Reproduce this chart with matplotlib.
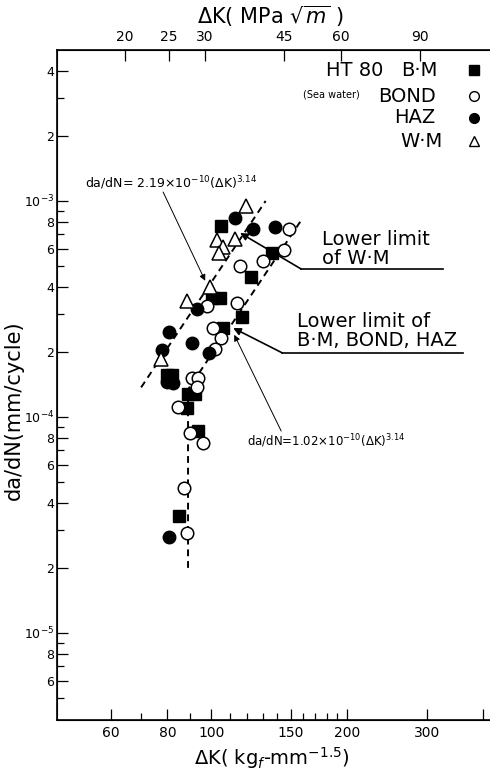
import matplotlib

matplotlib.use("Agg")
import matplotlib.pyplot as plt  # noqa: E402

plt.rcParams["font.family"] = ["DejaVu Sans"]
plt.rcParams["mathtext.fontset"] = "dejavusans"

# ------------------------------------------------------------------ data
# dK in kgf*mm^-1.5, da/dN in mm/cycle
bm_dk = [105.2, 136.4, 122.6, 100.5, 104.7, 117.1, 106.3, 79.9, 82.0, 88.9, 92.2, 88.5, 93.6, 85.0]
bm_dadn = [7.66e-4, 5.74e-4, 4.45e-4, 3.56e-4, 3.56e-4, 2.90e-4, 2.58e-4, 1.56e-4, 1.56e-4,
           1.27e-4, 1.28e-4, 1.10e-4, 8.6e-5, 3.48e-5]

bond_dk = [148.8, 145.0, 130.3, 115.9, 114.2, 98.0, 101.0, 105.2, 102.1, 90.8, 93.6, 93.1,
           84.5, 89.9, 96.0, 87.2, 88.5]
bond_dadn = [7.42e-4, 5.93e-4, 5.27e-4, 5.00e-4, 3.37e-4, 3.27e-4, 2.58e-4, 2.32e-4, 2.06e-4,
             1.52e-4, 1.52e-4, 1.38e-4, 1.11e-4, 8.4e-5, 7.6e-5, 4.7e-5, 2.9e-5]

haz_dk = [113.0, 123.9, 138.6, 93.1, 80.7, 90.8, 77.9, 99.0, 79.9, 82.4, 80.7]
haz_dadn = [8.34e-4, 7.42e-4, 7.58e-4, 3.16e-4, 2.48e-4, 2.20e-4, 2.05e-4, 1.98e-4, 1.45e-4,
            1.44e-4, 2.78e-5]

wm_dk = [119.5, 103.1, 113.0, 106.3, 104.2, 99.5, 88.5, 77.5]
wm_dadn = [9.48e-4, 6.60e-4, 6.67e-4, 6.12e-4, 5.74e-4, 4.0e-4, 3.44e-4, 1.86e-4]

# dashed lower-limit lines (end points)
upper_dk = [70.0, 132.0]
upper_dadn = [1.37e-4, 1.0e-3]
lower_dk = [88.9, 88.9, 158.0]
lower_dadn = [2.0e-5, 1.34e-4, 8.1e-4]

# ticks
x_major = [60, 80, 100, 150, 200, 300, 400]
x_major_labels = ["60", "80", "100", "150", "200", "300", ""]
x_minor = [70, 90, 110, 120, 130, 140, 160, 170, 180, 190]
mpa_ticks = [20, 25, 30, 45, 60, 90]
KGF_TO_MPA = 0.31

y_major = [4e-3, 2e-3, 1e-3, 8e-4, 6e-4, 4e-4, 2e-4, 1e-4, 8e-5, 6e-5, 4e-5, 2e-5, 1e-5, 8e-6, 6e-6]
y_major_labels = ["4", "2", "10$^{-3}$", "8", "6", "4", "2", "10$^{-4}$", "8", "6", "4", "2",
                  "10$^{-5}$", "8", "6"]
y_minor = [3e-3, 9e-4, 7e-4, 5e-4, 3e-4, 9e-5, 7e-5, 5e-5, 3e-5, 9e-6, 7e-6, 5e-6]

series_names = ["B·M", "BOND", "HAZ", "W·M"]

# ------------------------------------------------------------------ figure
fig = plt.figure(figsize=(4.9, 7.74), dpi=100)
ax = fig.add_axes([57 / 490, 54 / 774, 433 / 490, 670 / 774])
ax.set_xscale("log")
ax.set_yscale("log")
ax.set_xlim(45.6, 414)
ax.set_ylim(3.95e-6, 5.0e-3)

ms = 9
ax.plot(bm_dk, bm_dadn, "s", color="k", ms=ms, ls="none")
ax.plot(bond_dk, bond_dadn, "o", mfc="white", mec="k", mew=1.1, ms=ms, ls="none")
ax.plot(haz_dk, haz_dadn, "o", color="k", ms=ms, ls="none")
ax.plot(wm_dk, wm_dadn, "^", mfc="white", mec="k", mew=1.1, ms=ms + 1, ls="none")

dash = dict(color="k", lw=1.4, ls=(0, (3.5, 2.5)), zorder=1)
ax.plot(upper_dk, upper_dadn, **dash)
ax.plot(lower_dk, lower_dadn, **dash)

# ticks
ax.set_xticks(x_major)
ax.set_xticklabels(x_major_labels)
ax.set_xticks(x_minor, minor=True)
ax.set_xticklabels([], minor=True)
ax.set_yticks(y_major)
ax.set_yticklabels(y_major_labels)
ax.set_yticks(y_minor, minor=True)
ax.set_yticklabels([], minor=True)
ax.tick_params(which="both", direction="in", labelsize=10, width=0.9,
               top=False, right=False, pad=4)
ax.tick_params(axis="y", labelsize=9, pad=2)
ax.tick_params(which="major", length=8)
ax.tick_params(which="minor", length=5)
ax.spines["right"].set_visible(False)
for s in ["left", "bottom", "top"]:
    ax.spines[s].set_linewidth(1.2)

top = ax.twiny()
top.set_xscale("log")
top.set_xlim(ax.get_xlim())
top.set_xticks([v / KGF_TO_MPA for v in mpa_ticks])
top.set_xticklabels([str(v) for v in mpa_ticks])
top.set_xticks([], minor=True)
top.tick_params(direction="in", length=8, width=0.9, labelsize=10, pad=4)
top.spines["right"].set_visible(False)

ax.set_xlabel("ΔK( kg$_f$-mm$^{-1.5}$)", fontsize=14)
ax.xaxis.set_label_coords(0.497, -0.038)
ax.set_ylabel("da/dN(mm/cycle)", fontsize=15)
ax.yaxis.set_label_coords(-0.076, 0.462)
fig.text(270 / 490, 1 - 16 / 774, "ΔK( MPa $\\sqrt{m}$ )", fontsize=15, ha="center", va="center")

# legend block, drawn by hand as in the original
leg_y = [0.970, 0.931, 0.899, 0.864]
leg_x = [(419 - 57) / 433, (407 - 57) / 433, (415 - 57) / 433, (421 - 57) / 433]
leg_style = [
    dict(marker="s", color="k"),
    dict(marker="o", mfc="white", mec="k", mew=1.0),
    dict(marker="o", color="k"),
    dict(marker="^", mfc="white", mec="k", mew=1.0),
]
for name, lx, ly, st in zip(series_names, leg_x, leg_y, leg_style):
    ax.text(lx, ly, name, transform=ax.transAxes, fontsize=14, ha="center", va="center")
    ax.plot([0.963], [ly], transform=ax.transAxes, ms=7, ls="none", clip_on=False, **st)
ax.text((355 - 57) / 433, leg_y[0], "HT 80", transform=ax.transAxes, fontsize=14,
        ha="center", va="center")
ax.text((331 - 57) / 433, leg_y[1] + 0.003, "(Sea water)", transform=ax.transAxes,
        fontsize=7, ha="center", va="center")

# formula annotations
arrow = dict(arrowstyle="-|>", color="k", lw=0.7, mutation_scale=9, shrinkA=0, shrinkB=0)
ax.text(52.6, 1.21e-3, "da/dN= 2.19×10$^{-10}$(ΔK)$^{3.14}$", fontsize=9, ha="left", va="center")
ax.annotate("", xy=(97.0, 4.27e-4), xytext=(78.3, 1.10e-3), arrowprops=arrow)
ax.text(120.1, 7.7e-5, "da/dN=1.02×10$^{-10}$(ΔK)$^{3.14}$", fontsize=8.5, ha="left", va="center")
ax.annotate("", xy=(112.5, 2.40e-4), xytext=(142.9, 8.6e-5), arrowprops=arrow)

# lower-limit call-outs
thick = dict(arrowstyle="-|>", color="k", lw=1.2, mutation_scale=11, shrinkA=0, shrinkB=0)
ax.text(175.9, 6.0e-4, "Lower limit\nof W·M", fontsize=14, ha="left", va="center", linespacing=1.0)
ax.annotate("", xy=(115.9, 7.11e-4), xytext=(158.2, 4.84e-4), arrowprops=thick)
ax.plot([158.2, 326.0], [4.84e-4, 4.84e-4], color="k", lw=1.2)
ax.text(155.0, 2.5e-4, "Lower limit of\nB·M, BOND, HAZ", fontsize=14, ha="left", va="center",
        linespacing=1.0)
ax.annotate("", xy=(111.9, 2.58e-4), xytext=(143.6, 1.98e-4), arrowprops=thick)
ax.plot([143.6, 360.6], [1.98e-4, 1.98e-4], color="k", lw=1.2)

fig.savefig("out.png", dpi=100)
